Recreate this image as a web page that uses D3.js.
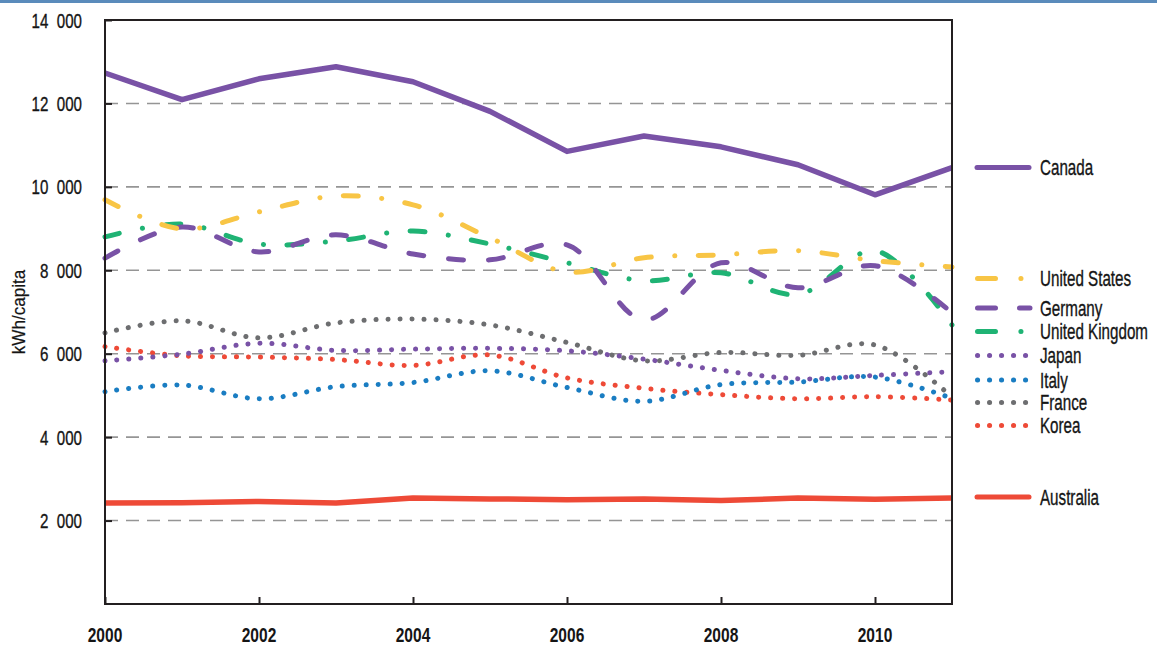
<!DOCTYPE html>
<html>
<head>
<meta charset="utf-8">
<script src="https://cdn.jsdelivr.net/npm/d3@7"></script>
<style>
  html, body { margin: 0; padding: 0; background: #fff; }
  svg { display: block; }
  text { font-family: "Liberation Sans", Arial, sans-serif; fill: #151515; }
</style>
</head>
<body>
<svg id="chart" width="1157" height="648"></svg>
<script>
// Electricity consumption per capita, kWh
const years = [2000, 2001, 2002, 2003, 2004, 2005, 2006, 2007, 2008, 2009, 2010, 2011];
const canada        = [12730, 12090, 12590, 12880, 12520, 11810, 10850, 11220, 10960, 10530, 9810, 10460];
const unitedStates  = [9690, 8990, 9400, 9780, 9570, 8780, 7960, 8300, 8370, 8470, 8230, 8080];
const germany       = [8290, 9040, 8440, 8850, 8390, 8250, 8610, 6810, 8180, 7580, 8110, 6980];
const unitedKingdom = [8800, 9110, 8630, 8700, 8940, 8630, 8180, 7750, 7940, 7420, 8470, 6690];
const japan         = [5830, 5990, 6250, 6080, 6110, 6130, 6070, 5870, 5600, 5400, 5480, 5570];
const italy         = [5090, 5250, 4920, 5210, 5310, 5590, 5190, 4860, 5260, 5320, 5440, 4930];
const france        = [6500, 6790, 6380, 6740, 6830, 6690, 6270, 5830, 6030, 5960, 6210, 4960];
const korea         = [6170, 5950, 5920, 5860, 5720, 5970, 5420, 5170, 5020, 4920, 4970, 4890];
const australia     = [2420, 2430, 2460, 2420, 2540, 2520, 2500, 2520, 2480, 2540, 2510, 2540];

const yTickValues = [2000, 4000, 6000, 8000, 10000, 12000, 14000];
const xTickValues = [2000, 2002, 2004, 2006, 2008, 2010];
const yAxisTitle = "kWh/capita";

const PURPLE = "#7952a6", YELLOW = "#f8c545", GREEN = "#1fb374",
      BLUE = "#1a7dc2", GREY = "#6d6e70", RED = "#ee4a37";

// drawing order: back to front
const series = [
  { name: "Australia",      values: australia,     color: RED,    style: "solid",   legendY: 497 },
  { name: "Korea",          values: korea,         color: RED,    style: "dot",     legendY: 425.5 },
  { name: "France",         values: france,        color: GREY,   style: "dot",     legendY: 402.5 },
  { name: "Italy",          values: italy,         color: BLUE,   style: "dot",     legendY: 380 },
  { name: "Japan",          values: japan,         color: PURPLE, style: "dot",     legendY: 355.5 },
  { name: "United Kingdom", values: unitedKingdom, color: GREEN,  style: "dashdot", legendY: 331.5 },
  { name: "Germany",        values: germany,       color: PURPLE, style: "dash",    legendY: 308 },
  { name: "United States",  values: unitedStates,  color: YELLOW, style: "dashdot", legendY: 278.5 },
  { name: "Canada",         values: canada,        color: PURPLE, style: "solid",   legendY: 167.5 }
];

const svg = d3.select("#chart");
const W = 1157, H = 648;
const plot = { left: 105, right: 952, top: 20, bottom: 604 };

const x = d3.scaleLinear().domain([2000, 2011]).range([plot.left, plot.right]);
const y = d3.scaleLinear().domain([0, 14000]).range([plot.bottom, plot.top]);

// condensed text: a regular face squeezed horizontally around its anchor point
function narrowText(sel, px, py, str, opts) {
  const o = Object.assign({ size: 20, sx: 0.75, anchor: "start", weight: "normal", rotate: 0, stroke: 0.35 }, opts);
  return sel.append("text")
    .attr("transform", `translate(${px},${py}) rotate(${o.rotate}) scale(${o.sx},1)`)
    .attr("dy", "0.36em")
    .attr("text-anchor", o.anchor)
    .attr("font-size", o.size)
    .attr("font-weight", o.weight)
    .attr("stroke", "#151515")
    .attr("stroke-width", o.stroke)
    .text(str);
}

// top rule
svg.append("rect").attr("x", 0).attr("y", 0).attr("width", W).attr("height", 3).attr("fill", "#5a8bbb");

// dashed gridlines
svg.append("g")
  .selectAll("line")
  .data(yTickValues.filter(v => v < 14000))
  .join("line")
  .attr("x1", plot.left).attr("x2", plot.right)
  .attr("y1", d => y(d)).attr("y2", d => y(d))
  .attr("stroke", "#959595").attr("stroke-width", 1.6)
  .attr("stroke-dasharray", "13 8");

const fmt = v => d3.format(",")(v).replace(",", "\u00a0\u00a0");

// y axis: ticks pointing inward, labels on the left
const yAxis = d3.axisRight(y).tickValues(yTickValues).tickSize(7).tickFormat("");
const gy = svg.append("g").attr("transform", `translate(${plot.left},0)`).call(yAxis);
gy.select(".domain").remove();
gy.selectAll(".tick line").attr("stroke", "#231f20").attr("stroke-width", 2);
const gyl = svg.append("g");
yTickValues.forEach(v => narrowText(gyl, 82, y(v), fmt(v), { size: 21, sx: 0.72, anchor: "end" }));

// x axis: ticks pointing up, labels below
const xAxis = d3.axisTop(x).tickValues(xTickValues).tickSize(7).tickFormat("");
const gx = svg.append("g").attr("transform", `translate(0,${plot.bottom})`).call(xAxis);
gx.select(".domain").remove();
gx.selectAll(".tick line").attr("stroke", "#231f20").attr("stroke-width", 2);
const gxl = svg.append("g");
xTickValues.forEach(v => narrowText(gxl, x(v), 634, String(v), { size: 21, sx: 0.74, anchor: "middle", weight: "bold", stroke: 0 }));

// axis title
narrowText(svg, 19, 312, yAxisTitle, { size: 18, sx: 0.95, anchor: "middle", rotate: -90, stroke: 0.2 });

// line styles
const dashFor = s => ({
  solid: null,
  dash: "15 25",
  dashdot: "15 23.5 0.1 23.4",
  dot: "0.1 11.9"
})[s];
const widthFor = s => (s === "dot" ? 5 : s === "solid" ? 5.5 : 5);

const lineLinear = d3.line().x((d, i) => x(years[i])).y(d => y(d));
const lineSmooth = d3.line().x((d, i) => x(years[i])).y(d => y(d)).curve(d3.curveCatmullRom.alpha(0.5));

const gLines = svg.append("g");
series.forEach(s => {
  gLines.append("path")
    .datum(s.values)
    .attr("d", s.style === "solid" ? lineLinear : lineSmooth)
    .attr("fill", "none")
    .attr("stroke", s.color)
    .attr("stroke-width", widthFor(s.style))
    .attr("stroke-linecap", s.style === "solid" ? "butt" : "round")
    .attr("stroke-linejoin", "round")
    .attr("stroke-dasharray", dashFor(s.style));
});

// plot frame
svg.append("rect")
  .attr("x", plot.left).attr("y", plot.top)
  .attr("width", plot.right - plot.left).attr("height", plot.bottom - plot.top)
  .attr("fill", "none").attr("stroke", "#231f20").attr("stroke-width", 2);

// legend
const legend = svg.append("g");
series.forEach(s => {
  const g = legend.append("g").attr("transform", `translate(0,${s.legendY})`);
  let pattern;
  if (s.style === "solid") pattern = { x1: 977, x2: 1029, dash: null };
  else if (s.style === "dash") pattern = { x1: 977.5, x2: 1030, dash: "18 24" };
  else if (s.style === "dashdot") pattern = { x1: 977.5, x2: 1021, dash: "18 25.4 0.1 10" };
  else pattern = { x1: 977.5, x2: 1026, dash: "0.1 11.9" };
  g.append("line")
    .attr("x1", pattern.x1).attr("x2", pattern.x2)
    .attr("y1", 0).attr("y2", 0)
    .attr("stroke", s.color)
    .attr("stroke-width", 5)
    .attr("stroke-linecap", "round")
    .attr("stroke-dasharray", pattern.dash);
  narrowText(g, 1040, 0, s.name, { size: 22, sx: 0.69 });
});
</script>
</body>
</html>
